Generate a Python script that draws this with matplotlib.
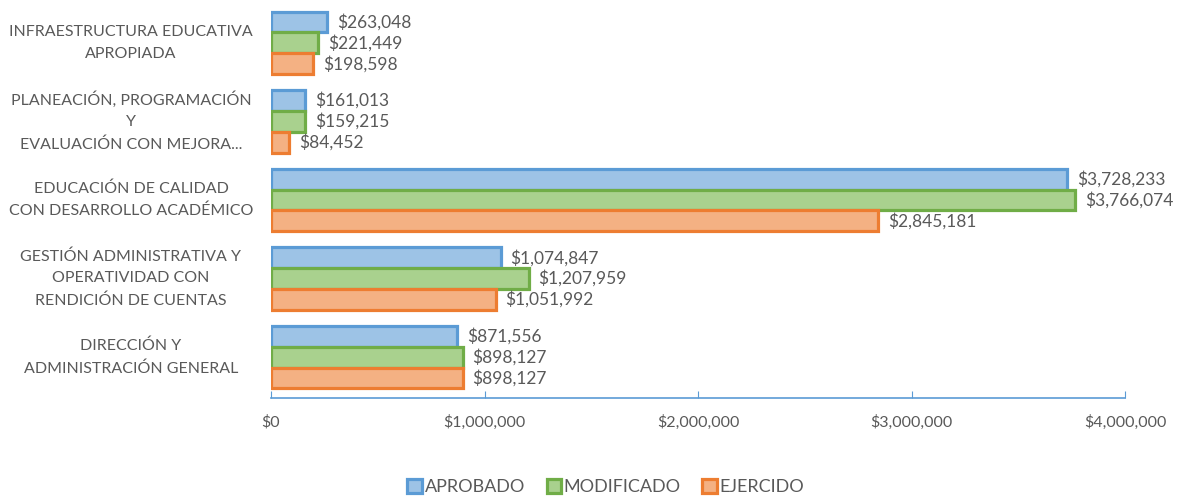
import numpy as np
import matplotlib
matplotlib.use('Agg')
from matplotlib import pyplot as plt
from matplotlib.patches import Patch
from matplotlib.ticker import FuncFormatter

categories = ["DIRECCIÓN Y\nADMINISTRACIÓN GENERAL",
              "GESTIÓN ADMINISTRATIVA Y\nOPERATIVIDAD CON\nRENDICIÓN DE CUENTAS",
              "EDUCACIÓN DE CALIDAD\nCON DESARROLLO ACADÉMICO",
              "PLANEACIÓN, PROGRAMACIÓN\nY\nEVALUACIÓN CON MEJORA...",
              "INFRAESTRUCTURA EDUCATIVA\nAPROPIADA"]
aprobado = [871556, 1074847, 3728233, 161013, 263048]
modificado = [898127, 1207959, 3766074, 159215, 221449]
ejercido = [898127, 1051992, 2845181, 84452, 198598]
series_names = ["APROBADO", "MODIFICADO", "EJERCIDO"]
x_ticks = [0, 1000000, 2000000, 3000000, 4000000]

edge_colors = ["#5B9BD5", "#70AD47", "#ED7D31"]
fill_colors = ["#9DC3E6", "#A9D18E", "#F4B183"]
text_color = "#595959"

plt.rcParams["font.family"] = ["Lato", "DejaVu Sans"]

fig = plt.figure(figsize=(11.81, 4.98), dpi=100)
ax = fig.add_axes([0.2295, 0.2008, 0.7231, 0.795])

y = np.arange(len(categories))
h = 0.266
offsets = [h, 0, -h]
for vals, off, ec, fc in zip([aprobado, modificado, ejercido], offsets, edge_colors, fill_colors):
    bars = ax.barh(y + off, vals, height=h, color=fc, edgecolor=ec, linewidth=2.3)
    for rect, v in zip(bars, vals):
        ax.annotate("${:,}".format(v), (rect.get_width(), rect.get_y() + rect.get_height() / 2),
                    xytext=(7, 0), textcoords='offset points', ha='left', va='center',
                    fontsize=12.5, color=text_color)

ax.set_ylim(-0.52, 4.52)
ax.set_xlim(0, 4000000)
ax.set_xticks(x_ticks)
ax.xaxis.set_major_formatter(FuncFormatter(lambda v, p: "${:,.0f}".format(v)))
ax.tick_params(axis='x', direction='in', length=5, color="#5B9BD5", labelsize=11.5,
               labelcolor=text_color, pad=12)
ax.set_yticks([])
for s in ["top", "right", "left"]:
    ax.spines[s].set_visible(False)
ax.spines["bottom"].set_color("#5B9BD5")
ax.spines["bottom"].set_linewidth(1.2)

# category names centred to the left of the bars
for yi, name in zip(y, categories):
    ax.text(-0.164, yi, name, transform=ax.get_yaxis_transform(), ha='center', va='center',
            fontsize=11.5, color=text_color, linespacing=1.67)

handles = [Patch(facecolor=fc, edgecolor=ec, linewidth=2.3) for ec, fc in zip(edge_colors, fill_colors)]
fig.legend(handles, series_names, loc='center', bbox_to_anchor=(0.513, 0.022), ncol=3,
           frameon=False, fontsize=13, labelcolor=text_color, handlelength=0.8, handleheight=0.8,
           handletextpad=0.15, columnspacing=1.2)

fig.savefig("out.png", dpi=100)
plt.close()
